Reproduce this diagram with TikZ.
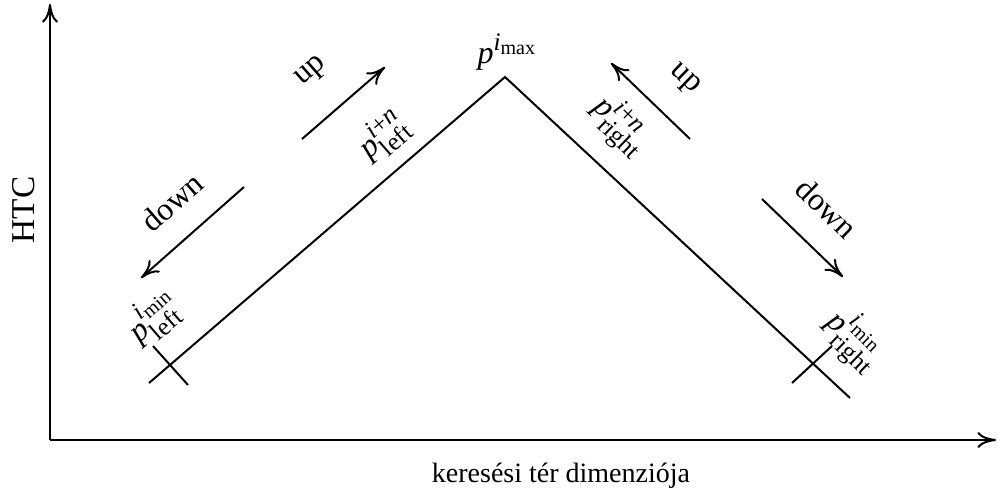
\documentclass[tikz,border=0pt]{standalone}
\usepackage{amsmath}
\usepackage{fontspec}
\setmainfont{Liberation Serif}
\DeclareMathSizes{24}{24}{19}{15}
\usetikzlibrary{arrows.meta,calc}
\newcommand{\vi}{\textit}
\begin{document}
\begin{tikzpicture}[x=0.75pt,y=-0.75pt,
  ln/.style={line width=1.5pt},
  arr/.style={ln,-{Computer Modern Rightarrow[length=14pt,width=12pt,line width=1.5pt]}},
  lbl/.style={inner sep=0pt,font=\fontsize{24}{28}\selectfont},
  mlbl/.style={inner sep=0pt,font=\fontsize{24}{28}\selectfont}]
\useasboundingbox (0,0) rectangle (997,493);
% axes
\coordinate (O) at (50,440);
\coordinate (Ytop) at (50,4);
\coordinate (Xend) at (996,440);
\draw[arr] (O) -- (Ytop);
\draw[arr] (O) -- (Xend);
% curve
\coordinate (L) at (149,383);
\coordinate (P) at (505,77);
\coordinate (R) at (850,398);
\draw[ln] (L) -- (P) -- (R);
% ticks
\coordinate (lt1) at (153,346);
\coordinate (lt2) at (188,385);
\coordinate (rt1) at (792,383);
\coordinate (rt2) at (832,346);
\draw[ln] (lt1) -- (lt2);
\draw[ln] (rt1) -- (rt2);
% direction arrows
\coordinate (dl1) at (244,187); \coordinate (dl2) at (141,278);
\coordinate (ul1) at (302,139); \coordinate (ul2) at (385,67);
\coordinate (ur1) at (690,139); \coordinate (ur2) at (611,63);
\coordinate (dr1) at (762,199); \coordinate (dr2) at (843,277);
\draw[arr] (dl1) -- (dl2);
\draw[arr] (ul1) -- (ul2);
\draw[arr] (ur1) -- (ur2);
\draw[arr] (dr1) -- (dr2);
% labels
\node[lbl,rotate=41] (upl) at (312,72) {up};
\node[lbl,rotate=41] (downl) at (172,202) {down};
\node[lbl,rotate=-44] (upr) at (684,80) {up};
\node[lbl,rotate=-44] (downr) at (827,208) {down};
\node[mlbl,rotate=41] (pinl) at (383,136) {$\vi{p}^{\vi{i}\text{+}\vi{n}}_{\text{left}}$};
\node[mlbl,rotate=-44] (pinr) at (620,126) {$\vi{p}^{\vi{i}\text{+}\vi{n}}_{\text{right}}$};
\node[mlbl,rotate=41] (pminl) at (153,317) {$\vi{p}^{\vi{i}_{\text{min}}}_{\text{left}}$};
\node[mlbl,rotate=-44] (pminr) at (854,340) {$\vi{p}^{\vi{i}_{\text{min}}}_{\text{right}}$};
\node[mlbl] (pmax) at (507,52) {$\vi{p}^{\vi{i}_{\text{max}}}$};
\node[lbl,rotate=90,font=\fontsize{25}{30}\selectfont] (htc) at (24,210) {HTC};
\node[inner sep=0pt,font=\fontsize{21}{25}\selectfont,anchor=base] (xl) at (561,482) {keresési tér dimenziója};
\end{tikzpicture}
\end{document}
